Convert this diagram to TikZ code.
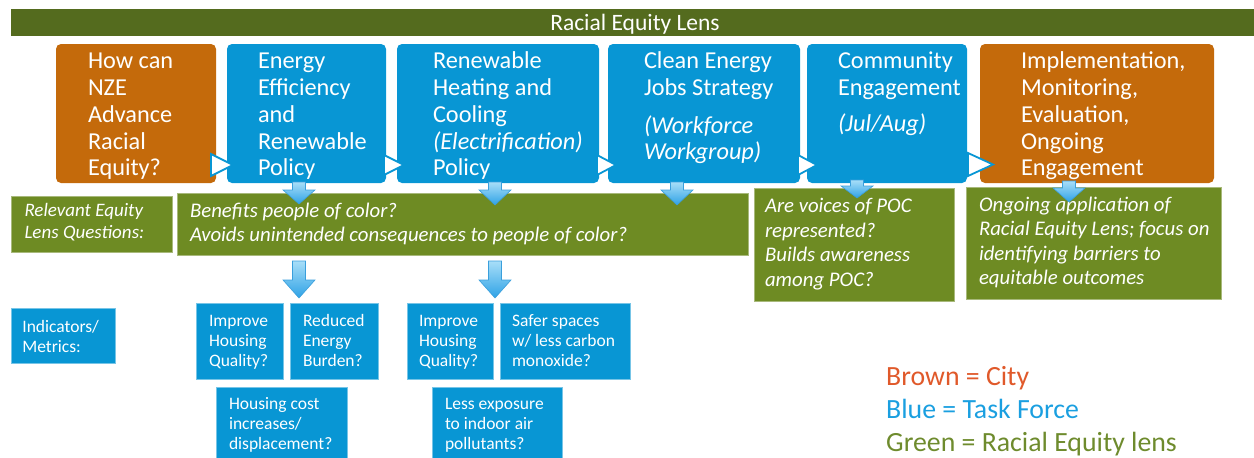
\documentclass[tikz,border=0pt]{standalone}
\usepackage{fontspec}
\setmainfont{Carlito}
\usetikzlibrary{calc}
\definecolor{bannerc}{HTML}{546B1E}
\definecolor{brownc}{HTML}{C46A0B}
\definecolor{bluec}{HTML}{0896D4}
\definecolor{greenc}{HTML}{6E8B23}
\definecolor{arrtop}{HTML}{A8DEF8}
\definecolor{arrbot}{HTML}{2EA2E6}
\definecolor{arredge}{HTML}{3A9FDC}
\definecolor{legbrown}{HTML}{E0592A}
\definecolor{legblue}{HTML}{1A9FE0}
\definecolor{leggreen}{HTML}{6E8B2D}
\newcommand\dnarrow[4]{%
  \draw[blockarrow] (#1-6.5,#2) -- (#1+6.5,#2) -- (#1+6.5,#4) -- (#1+16,#4) -- (#1,#3) -- (#1-16,#4) -- (#1-6.5,#4) -- cycle;}
\begin{document}
\begin{tikzpicture}[x=1pt,y=-1pt,
  boxbase/.style={anchor=north west,inner sep=0pt,outer sep=0pt},
  topbox/.style={boxbase,rounded corners=5pt},
  greenbox/.style={boxbase,fill=greenc,draw=greenc!60!white,line width=0.6pt},
  smallbox/.style={boxbase,fill=bluec,draw=bluec!55!white,line width=0.6pt},
  txt/.style={anchor=north west,inner sep=0pt,outer sep=0pt,align=left,text=white},
  toptxt/.style={txt,font=\fontsize{24.3}{26.7}\selectfont},
  qtxt/.style={txt,font=\fontsize{20.8}{24.5}\selectfont\itshape},
  smalltxt/.style={txt,font=\fontsize{17.5}{20}\selectfont},
  tri/.style={draw=bluec,fill=white,line width=1.8pt,line join=miter},
  blockarrow/.style={top color=arrtop,bottom color=arrbot,draw=arredge,line width=0.6pt}]
\useasboundingbox (0,0) rectangle (1254,458);
% banner
\node[boxbase,fill=bannerc,minimum width=1243pt,minimum height=27pt] (banner) at (11,9) {};
\node[anchor=base,text=white,font=\fontsize{23.5}{26}\selectfont] (bannertxt) at (635,30.7) {Racial Equity Lens};
% top boxes
\node[topbox,fill=brownc,minimum width=160pt,minimum height=139pt] (b1) at (56,44) {};
\node[topbox,fill=bluec,minimum width=159pt,minimum height=139pt] (b2) at (227,44) {};
\node[topbox,fill=bluec,minimum width=202pt,minimum height=139pt] (b3) at (397,44) {};
\node[topbox,fill=bluec,minimum width=192pt,minimum height=139pt] (b4) at (608,44) {};
\node[topbox,fill=bluec,minimum width=160pt,minimum height=139pt] (b5) at (807,44) {};
\node[topbox,fill=brownc,minimum width=234pt,minimum height=139pt] (b6) at (980,44) {};
\node[toptxt] (t1) at (88,50.3) {\strut How can\\NZE\\Advance\\Racial\\Equity?};
\node[toptxt] (t2) at (258,50.3) {\strut Energy\\Efficiency\\and\\Renewable\\Policy};
\node[toptxt] (t3) at (433,50.3) {\strut Renewable\\Heating and\\Cooling\\\textit{(Electrification)}\\Policy};
\node[toptxt] (t4) at (644,50.3) {\strut Clean Energy\\Jobs Strategy\\[10.9pt]\textit{(Workforce}\\\textit{Workgroup)}};
\node[toptxt] (t5) at (838,50.3) {\strut Community\\Engagement\\[9.3pt]\textit{(Jul/Aug)}};
\node[toptxt] (t6) at (1021,50.3) {\strut Implementation,\\Monitoring,\\Evaluation,\\Ongoing\\Engagement};
% process triangles
\draw[tri] (211,154) -- (233,165) -- (211,176) -- cycle;
\draw[tri] (384,155) -- (404,165) -- (384,175) -- cycle;
\draw[tri] (597,155) -- (616,165) -- (597,175) -- cycle;
\draw[tri] (798,155) -- (817,165) -- (798,175) -- cycle;
\draw[tri] (968,153) -- (993,164.5) -- (968,176) -- cycle;
% green boxes
\node[greenbox,minimum width=161pt,minimum height=56pt] (g0) at (11,196) {};
\node[greenbox,minimum width=571pt,minimum height=62pt] (g1) at (177,193) {};
\node[greenbox,minimum width=200pt,minimum height=113pt] (g2) at (754,188.5) {};
\node[greenbox,minimum width=255pt,minimum height=112pt] (g3) at (966,187.5) {};
\node[txt,font=\fontsize{19}{21.7}\selectfont\itshape] (g0t) at (24.5,201.5) {\strut Relevant Equity\\Lens Questions:};
\node[txt,font=\fontsize{20.8}{24.4}\selectfont\itshape] (g1t) at (190,200.2) {\strut Benefits people of color?\\Avoids unintended consequences to people of color?};
\node[qtxt] (g2t) at (765,195.8) {\strut Are voices of POC\\represented?\\Builds awareness\\among POC?};
\node[qtxt] (g3t) at (979,194.2) {\strut Ongoing application of\\Racial Equity Lens; focus on\\identifying barriers to\\equitable outcomes};
% block arrows
\dnarrow{299}{182}{204}{190}
\dnarrow{495}{182}{205}{190}
\dnarrow{677}{182}{205}{190}
\dnarrow{857}{180}{198}{186}
\dnarrow{1069}{181}{202}{188}
\dnarrow{299}{261}{298}{280}
\dnarrow{495}{261}{298}{280}
% indicator boxes
\node[smallbox,minimum width=104pt,minimum height=55pt] (ind) at (11,308) {};
\node[smallbox,minimum width=87pt,minimum height=76pt] (s1) at (196.5,303.5) {};
\node[smallbox,minimum width=88pt,minimum height=76pt] (s2) at (290,303.5) {};
\node[smallbox,minimum width=86pt,minimum height=76pt] (s3) at (407,303.5) {};
\node[smallbox,minimum width=130pt,minimum height=76pt] (s4) at (500,303.5) {};
\node[smallbox,minimum width=131pt,minimum height=75pt] (s5) at (216,387) {};
\node[smallbox,minimum width=130pt,minimum height=75pt] (s6) at (432,387) {};
\node[smalltxt] (indt) at (22.4,318.3) {\strut Indicators/\\Metrics:};
\node[smalltxt] (s1t) at (209,312.7) {\strut Improve\\Housing\\Quality?};
\node[smalltxt] (s2t) at (303,312.7) {\strut Reduced\\Energy\\Burden?};
\node[smalltxt] (s3t) at (419,312.7) {\strut Improve\\Housing\\Quality?};
\node[smalltxt] (s4t) at (512,312.7) {\strut Safer spaces\\w/ less carbon\\monoxide?};
\node[smalltxt] (s5t) at (229,395.3) {\strut Housing cost\\increases/\\displacement?};
\node[smalltxt] (s6t) at (445,395.3) {\strut Less exposure\\to indoor air\\pollutants?};
% legend
\node[anchor=north west,inner sep=0pt,align=left,font=\fontsize{27.8}{33}\selectfont] (legend) at (886,361.9)
  {\strut\textcolor{legbrown}{Brown = City}\\\textcolor{legblue}{Blue = Task Force}\\\textcolor{leggreen}{Green = Racial Equity lens}};
\end{tikzpicture}
\end{document}
